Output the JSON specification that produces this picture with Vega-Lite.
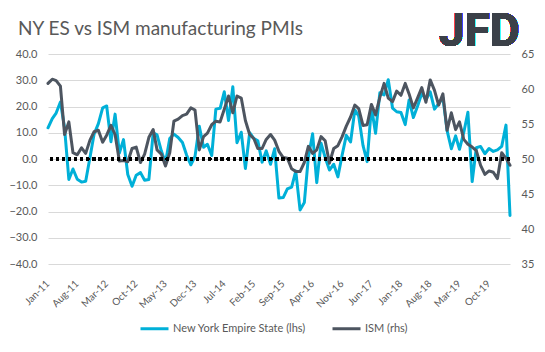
{
"$schema": "https://vega.github.io/schema/vega-lite/v6.json",
"width": 462, "height": 210,
"autosize": {"type": "none"},
"padding": {"left": 48, "top": 54, "right": 35, "bottom": 88},
"background": "white",
"config": {"font": "Lato", "view": {"stroke": null},
  "axis": {"labelColor": "#595959", "labelFontSize": 11, "domain": false, "ticks": false, "tickSize": 0}},
"title": {"text": "NY ES vs ISM manufacturing PMIs", "anchor": "start", "frame": "group", "fontSize": 19, "fontWeight": "normal", "color": "#595959", "dx": -30, "offset": 0, "baseline": "alphabetic", "dy": 45},
"datasets": {
"pmi": [
{"date":"2011-01-01","ny":11.9,"ism":60.8},{"date":"2011-02-01","ny":15.4,"ism":61.4},{"date":"2011-03-01","ny":17.5,"ism":61.2},{"date":"2011-04-01","ny":21.7,"ism":60.4},{"date":"2011-05-01","ny":11.9,"ism":53.5},{"date":"2011-06-01","ny":-7.8,"ism":55.3},{"date":"2011-07-01","ny":-3.8,"ism":50.9},{"date":"2011-08-01","ny":-7.7,"ism":50.6},{"date":"2011-09-01","ny":-8.8,"ism":51.6},{"date":"2011-10-01","ny":-8.5,"ism":50.8},{"date":"2011-11-01","ny":0.6,"ism":52.7},{"date":"2011-12-01","ny":9.5,"ism":53.9},
{"date":"2012-01-01","ny":13.5,"ism":54.1},{"date":"2012-02-01","ny":19.5,"ism":52.4},{"date":"2012-03-01","ny":20.2,"ism":53.4},{"date":"2012-04-01","ny":6.6,"ism":54.8},{"date":"2012-05-01","ny":17.1,"ism":53.5},{"date":"2012-06-01","ny":2.3,"ism":49.7},{"date":"2012-07-01","ny":7.4,"ism":49.8},{"date":"2012-08-01","ny":-5.9,"ism":49.6},{"date":"2012-09-01","ny":-10.4,"ism":51.5},{"date":"2012-10-01","ny":-6.2,"ism":51.7},{"date":"2012-11-01","ny":-5.2,"ism":49.5},{"date":"2012-12-01","ny":-8.1,"ism":50.7},
{"date":"2013-01-01","ny":-7.8,"ism":53.1},{"date":"2013-02-01","ny":10.0,"ism":54.2},{"date":"2013-03-01","ny":9.2,"ism":51.3},{"date":"2013-04-01","ny":3.1,"ism":50.7},{"date":"2013-05-01","ny":-1.4,"ism":49.0},{"date":"2013-06-01","ny":7.8,"ism":50.9},{"date":"2013-07-01","ny":9.5,"ism":55.4},{"date":"2013-08-01","ny":8.2,"ism":55.7},{"date":"2013-09-01","ny":6.3,"ism":56.2},{"date":"2013-10-01","ny":1.5,"ism":56.4},{"date":"2013-11-01","ny":-2.2,"ism":57.3},{"date":"2013-12-01","ny":1.0,"ism":57.0},
{"date":"2014-01-01","ny":12.5,"ism":51.3},{"date":"2014-02-01","ny":4.5,"ism":53.2},{"date":"2014-03-01","ny":5.6,"ism":53.7},{"date":"2014-04-01","ny":1.3,"ism":54.9},{"date":"2014-05-01","ny":19.0,"ism":55.4},{"date":"2014-06-01","ny":19.3,"ism":55.3},{"date":"2014-07-01","ny":25.6,"ism":57.1},{"date":"2014-08-01","ny":14.7,"ism":59.0},{"date":"2014-09-01","ny":27.5,"ism":56.6},{"date":"2014-10-01","ny":6.2,"ism":59.0},{"date":"2014-11-01","ny":10.2,"ism":58.7},{"date":"2014-12-01","ny":-3.6,"ism":55.5},
{"date":"2015-01-01","ny":10.0,"ism":53.5},{"date":"2015-02-01","ny":7.8,"ism":52.9},{"date":"2015-03-01","ny":6.9,"ism":51.5},{"date":"2015-04-01","ny":-1.2,"ism":51.5},{"date":"2015-05-01","ny":3.1,"ism":52.8},{"date":"2015-06-01","ny":-2.0,"ism":53.5},{"date":"2015-07-01","ny":3.9,"ism":52.7},{"date":"2015-08-01","ny":-14.9,"ism":51.1},{"date":"2015-09-01","ny":-14.7,"ism":50.2},{"date":"2015-10-01","ny":-11.4,"ism":50.1},{"date":"2015-11-01","ny":-10.7,"ism":48.6},{"date":"2015-12-01","ny":-4.6,"ism":48.2},
{"date":"2016-01-01","ny":-19.4,"ism":48.2},{"date":"2016-02-01","ny":-16.6,"ism":49.5},{"date":"2016-03-01","ny":0.6,"ism":51.8},{"date":"2016-04-01","ny":9.6,"ism":50.8},{"date":"2016-05-01","ny":-9.0,"ism":51.3},{"date":"2016-06-01","ny":6.0,"ism":53.2},{"date":"2016-07-01","ny":0.6,"ism":52.6},{"date":"2016-08-01","ny":-4.2,"ism":49.4},{"date":"2016-09-01","ny":-2.0,"ism":51.5},{"date":"2016-10-01","ny":-6.8,"ism":51.9},{"date":"2016-11-01","ny":1.5,"ism":53.2},{"date":"2016-12-01","ny":9.0,"ism":54.7},
{"date":"2017-01-01","ny":6.5,"ism":56.0},{"date":"2017-02-01","ny":18.7,"ism":57.7},{"date":"2017-03-01","ny":16.4,"ism":57.2},{"date":"2017-04-01","ny":5.2,"ism":54.8},{"date":"2017-05-01","ny":-1.0,"ism":54.9},{"date":"2017-06-01","ny":19.8,"ism":57.8},{"date":"2017-07-01","ny":9.8,"ism":56.3},{"date":"2017-08-01","ny":25.2,"ism":58.8},{"date":"2017-09-01","ny":24.4,"ism":60.8},{"date":"2017-10-01","ny":30.2,"ism":58.7},{"date":"2017-11-01","ny":19.4,"ism":58.2},{"date":"2017-12-01","ny":18.0,"ism":59.7},
{"date":"2018-01-01","ny":17.7,"ism":59.1},{"date":"2018-02-01","ny":13.1,"ism":60.8},{"date":"2018-03-01","ny":22.5,"ism":59.3},{"date":"2018-04-01","ny":15.8,"ism":57.3},{"date":"2018-05-01","ny":20.1,"ism":58.7},{"date":"2018-06-01","ny":25.0,"ism":60.2},{"date":"2018-07-01","ny":22.6,"ism":58.1},{"date":"2018-08-01","ny":25.6,"ism":61.3},{"date":"2018-09-01","ny":19.0,"ism":59.8},{"date":"2018-10-01","ny":21.1,"ism":57.7},{"date":"2018-11-01","ny":23.3,"ism":59.3},{"date":"2018-12-01","ny":10.9,"ism":54.1},
{"date":"2019-01-01","ny":3.9,"ism":56.6},{"date":"2019-02-01","ny":8.8,"ism":54.2},{"date":"2019-03-01","ny":3.7,"ism":55.3},{"date":"2019-04-01","ny":10.1,"ism":52.8},{"date":"2019-05-01","ny":17.8,"ism":52.1},{"date":"2019-06-01","ny":-8.6,"ism":51.7},{"date":"2019-07-01","ny":4.3,"ism":51.2},{"date":"2019-08-01","ny":4.8,"ism":49.1},{"date":"2019-09-01","ny":2.0,"ism":47.8},{"date":"2019-10-01","ny":4.0,"ism":48.3},{"date":"2019-11-01","ny":2.9,"ism":48.1},{"date":"2019-12-01","ny":3.5,"ism":47.2},
{"date":"2020-01-01","ny":4.8,"ism":50.9},{"date":"2020-02-01","ny":12.9,"ism":50.1},{"date":"2020-03-01","ny":-21.5,"ism":49.1}
],
"ticks": [
{"date":"2011-01-01","label":"Jan-11"},{"date":"2011-08-01","label":"Aug-11"},{"date":"2012-03-01","label":"Mar-12"},{"date":"2012-10-01","label":"Oct-12"},{"date":"2013-05-01","label":"May-13"},{"date":"2013-12-01","label":"Dec-13"},{"date":"2014-07-01","label":"Jul-14"},{"date":"2015-02-01","label":"Feb-15"},{"date":"2015-09-01","label":"Sep-15"},{"date":"2016-04-01","label":"Apr-16"},{"date":"2016-11-01","label":"Nov-16"},{"date":"2017-06-01","label":"Jun-17"},{"date":"2018-01-01","label":"Jan-18"},{"date":"2018-08-01","label":"Aug-18"},{"date":"2019-03-01","label":"Mar-19"},{"date":"2019-10-01","label":"Oct-19"}
]},
"data": {"name": "pmi"},
"layer": [
 {"mark": {"type": "line", "strokeWidth": 3, "strokeJoin": "round", "strokeCap": "round"},
  "encoding": {
   "x": {"field": "date", "type": "temporal", "scale": {"type": "utc", "domain": [1293840000000, 1583020800000]}, "axis": null},
   "y": {"field": "ny", "type": "quantitative", "scale": {"domain": [-40, 40]},
     "axis": {"title": null, "orient": "left", "values": [-40,-30,-20,-10,0,10,20,30,40], "format": ".1f", "grid": true, "gridColor": "#d9d9d9", "gridWidth": 1, "labelPadding": 11}},
   "color": {"datum": "New York Empire State (lhs)", "type": "nominal",
     "scale": {"domain": ["New York Empire State (lhs)", "ISM (rhs)"], "range": ["#00b0d8", "#4d5560"]},
     "legend": {"orient": "none", "legendX": 91, "legendY": 259, "direction": "horizontal", "title": null, "symbolType": "stroke", "symbolSize": 784, "symbolStrokeWidth": 3, "labelFontSize": 11, "labelColor": "#595959", "columnPadding": 20, "labelOffset": 3}}
  }},
 {"mark": {"type": "line", "strokeWidth": 3, "strokeJoin": "round", "strokeCap": "round"},
  "encoding": {
   "x": {"field": "date", "type": "temporal", "axis": null},
   "y": {"field": "ism", "type": "quantitative", "scale": {"domain": [35, 65]},
     "axis": {"title": null, "orient": "right", "values": [35,40,45,50,55,60,65], "format": "d", "grid": false, "labelPadding": 11}},
   "color": {"datum": "ISM (rhs)", "type": "nominal"}
  }},
 {"mark": {"type": "rule", "color": "black", "strokeWidth": 2.5, "strokeDash": [2.5, 3.6]},
  "encoding": {"y": {"datum": 0, "type": "quantitative", "scale": {"domain": [-40, 40]}, "axis": null}}},
 {"data": {"name": "ticks"},
  "mark": {"type": "text", "angle": -45, "align": "right", "baseline": "middle", "fontSize": 10, "color": "#595959"},
  "encoding": {
   "x": {"field": "date", "type": "temporal", "axis": null},
   "y": {"datum": -47, "type": "quantitative", "scale": {"domain": [-40, 40]}, "axis": null},
   "text": {"field": "label", "type": "nominal"}}},
 {"mark": {"type": "text", "text": "JFD", "font": "Roboto", "fontWeight": "bold", "fontSize": 46, "color": "#3b4048", "align": "right", "baseline": "alphabetic"},
  "encoding": {
   "x": {"datum": 1589241600000, "type": "temporal", "axis": null},
   "y": {"datum": 43.2, "type": "quantitative", "scale": {"domain": [-40, 40]}, "axis": null}}}
],
"resolve": {"scale": {"y": "independent"}}
}
